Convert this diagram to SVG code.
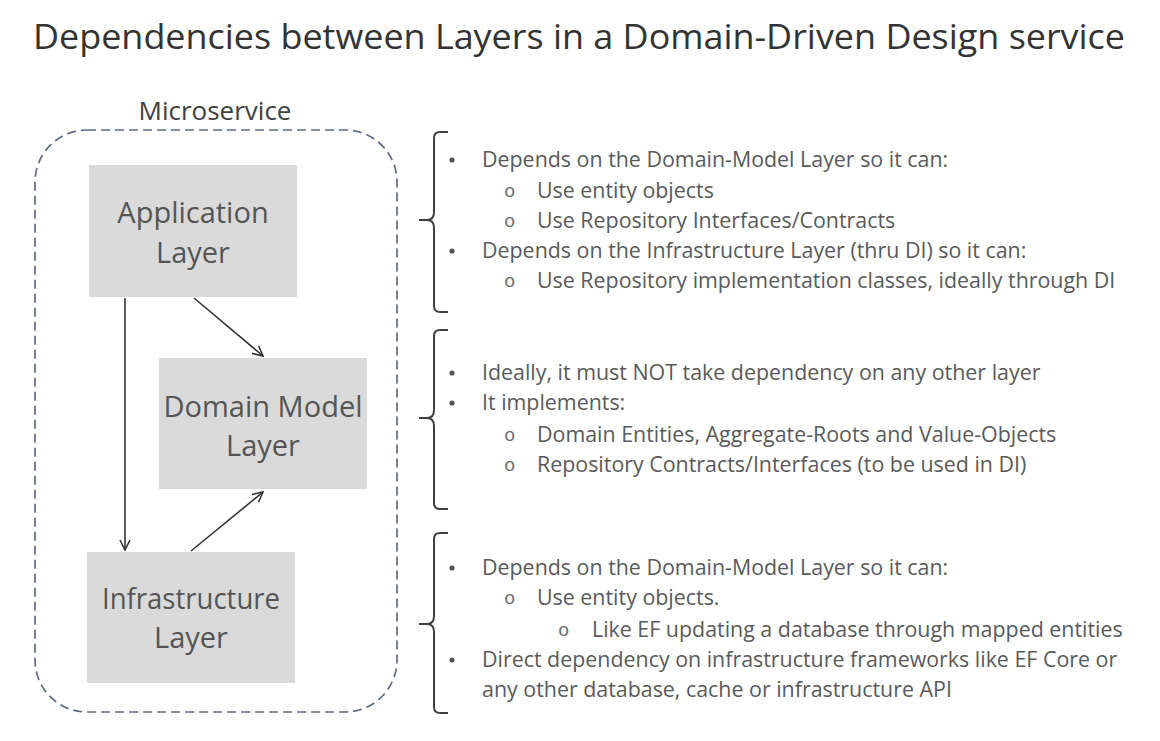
<svg xmlns="http://www.w3.org/2000/svg" width="1160" height="741" viewBox="0 0 1160 741">
<defs>
<style>
.title{font-family:"Open Sans","Liberation Sans",sans-serif;font-size:35px;fill:#333333}
.lbl{font-family:"Open Sans","Liberation Sans",sans-serif;font-size:26px;fill:#404040}
.node{fill:#dadada}
.nt{font-family:"Open Sans","Liberation Sans",sans-serif;font-size:29px;fill:#555555;text-anchor:middle}
.tx{font-family:"Open Sans","Liberation Sans",sans-serif;font-size:21.4px;fill:#5a5a5a}
.sb{font-family:"Liberation Mono",monospace;font-size:19px;fill:#707070}
.brace{fill:none;stroke:#404040;stroke-width:2}
.edge{fill:none;stroke:#333333;stroke-width:1.6}
</style>
<marker id="arr" viewBox="0 0 12 12" refX="11" refY="6" markerWidth="12" markerHeight="12" markerUnits="userSpaceOnUse" orient="auto">
<path d="M1,1 L11,6 L1,11" fill="none" stroke="#333333" stroke-width="1.6"/>
</marker>
</defs>
<rect width="1160" height="741" fill="#ffffff"/>
<text class="title" x="33" y="49" textLength="1092" lengthAdjust="spacingAndGlyphs">Dependencies between Layers in a Domain-Driven Design service</text>

<g id="microservice">
<rect x="35" y="130" width="362" height="582" rx="52" ry="52" fill="none" stroke="#5f6a88" stroke-width="1.7" stroke-dasharray="9,5"/>
<text class="lbl" x="215" y="120" text-anchor="middle">Microservice</text>
</g>

<g id="application">
<rect class="node" x="89" y="165" width="208" height="132"/>
<text class="nt" x="193" y="223">Application</text>
<text class="nt" x="193" y="263">Layer</text>
</g>
<g id="domain">
<rect class="node" x="159" y="358" width="208" height="131"/>
<text class="nt" x="263" y="417">Domain Model</text>
<text class="nt" x="263" y="456">Layer</text>
</g>
<g id="infrastructure">
<rect class="node" x="87" y="552" width="208" height="131"/>
<text class="nt" x="191" y="609" textLength="178" lengthAdjust="spacingAndGlyphs">Infrastructure</text>
<text class="nt" x="191" y="648">Layer</text>
</g>

<g id="connectors">
<line class="edge" x1="125" y1="298" x2="125" y2="550" marker-end="url(#arr)"/>
<line class="edge" x1="194" y1="298" x2="263" y2="356" marker-end="url(#arr)"/>
<line class="edge" x1="191" y1="551" x2="263" y2="492" marker-end="url(#arr)"/>
</g>

<g id="brace1">
<path class="brace" d="M448,132 H440 Q434,132 434,138 V212 Q434,220 427,220 H419 M427,220 Q434,220 434,228 V306 Q434,312 440,312 H448"/>
</g>
<g id="brace2">
<path class="brace" d="M448,330 H440 Q434,330 434,336 V410 Q434,418 427,418 H419 M427,418 Q434,418 434,426 V503 Q434,509 440,509 H448"/>
</g>
<g id="brace3">
<path class="brace" d="M448,533 H440 Q434,533 434,539 V616 Q434,624 427,624 H419 M427,624 Q434,624 434,632 V707 Q434,713 440,713 H448"/>
</g>

<g id="text1">
<circle cx="452" cy="160" r="2.6" fill="#555"/>
<text class="tx" x="482" y="167">Depends on the Domain-Model Layer so it can:</text>
<text class="sb" x="504" y="197">o</text>
<text class="tx" x="537" y="198">Use entity objects</text>
<text class="sb" x="504" y="227">o</text>
<text class="tx" x="537" y="228">Use Repository Interfaces/Contracts</text>
<circle cx="452" cy="251" r="2.6" fill="#555"/>
<text class="tx" x="482" y="258">Depends on the Infrastructure Layer (thru DI) so it can:</text>
<text class="sb" x="504" y="287">o</text>
<text class="tx" x="537" y="288">Use Repository implementation classes, ideally through DI</text>
</g>

<g id="text2">
<circle cx="452" cy="373" r="2.6" fill="#555"/>
<text class="tx" x="482" y="380">Ideally, it must NOT take dependency on any other layer</text>
<circle cx="452" cy="403" r="2.6" fill="#555"/>
<text class="tx" x="482" y="410">It implements:</text>
<text class="sb" x="504" y="441">o</text>
<text class="tx" x="537" y="442">Domain Entities, Aggregate-Roots and Value-Objects</text>
<text class="sb" x="504" y="471">o</text>
<text class="tx" x="537" y="472">Repository Contracts/Interfaces (to be used in DI)</text>
</g>

<g id="text3">
<circle cx="452" cy="568" r="2.6" fill="#555"/>
<text class="tx" x="482" y="575">Depends on the Domain-Model Layer so it can:</text>
<text class="sb" x="504" y="604">o</text>
<text class="tx" x="537" y="605">Use entity objects.</text>
<text class="sb" x="558" y="636">o</text>
<text class="tx" x="592" y="637">Like EF updating a database through mapped entities</text>
<circle cx="452" cy="660" r="2.6" fill="#555"/>
<text class="tx" x="482" y="667">Direct dependency on infrastructure frameworks like EF Core or</text>
<text class="tx" x="482" y="697">any other database, cache or infrastructure API</text>
</g>
</svg>
